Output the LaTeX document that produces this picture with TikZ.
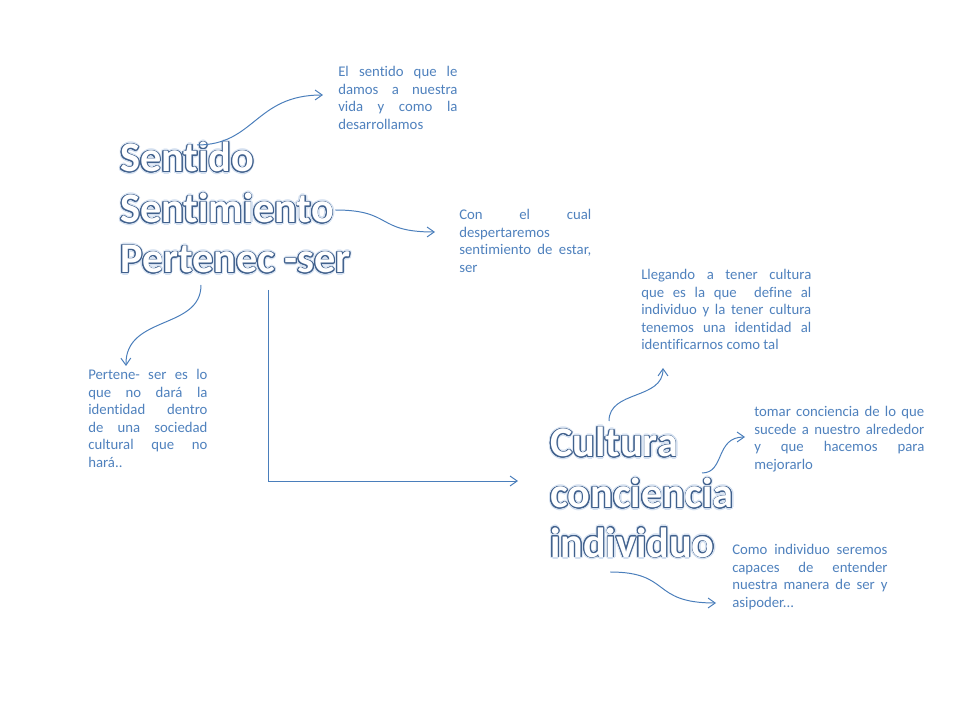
\documentclass[tikz,border=0pt]{standalone}
\usepackage{fontspec}
\setmainfont{Carlito}[Ligatures=NoCommon]
\usepackage{xcolor}
\usepackage{tikz}
\usetikzlibrary{arrows.meta, positioning, calc}
\definecolor{noteblue}{HTML}{4F81BD}
\definecolor{lineblue}{HTML}{4A7EBB}
\definecolor{wordline}{HTML}{40608C}
\definecolor{wordglow}{HTML}{D3DFEF}
\hyphenpenalty=10000
\exhyphenpenalty=10000

% outlined big word: glow copies, outline copies, white face on top
\newcommand\bigword[3]{%
  \foreach \ang in {0,45,...,315}
    \node[wordtxt, text=wordglow] at ($(#2)+(\ang:2.2)$) {#3};
  \foreach \ang in {0,22.5,...,337.5}
    \node[wordtxt, text=wordline] at ($(#2)+(\ang:0.8)$) {#3};
  \node[wordtxt, text=white] (#1) at (#2) {#3};
}

\begin{document}
\begin{tikzpicture}[x=0.025cm, y=-0.025cm,
  wordtxt/.style={font=\fontsize{30}{36}\selectfont\bfseries, anchor=base west, inner sep=0pt},
  note/.style={font=\fontsize{10.5}{12.5}\selectfont, text=noteblue, align=justify, anchor=north west, inner sep=0pt},
  link/.style={draw=lineblue, line width=0.7pt, -{Straight Barb[length=5pt,width=7pt]}}]
  \useasboundingbox (0,0) rectangle (960,720);

  % big words
  \bigword{sentido}{120,172}{Sentido}
  \bigword{sentimiento}{120,223}{Sentimiento}
  \bigword{pertenec}{120,273}{Pertenec -ser}
  \bigword{cultura}{550,457}{Cultura}
  \bigword{conciencia}{550,508}{conciencia}
  \bigword{individuo}{550,557}{individuo}

  % notes
  \node[note, text width=2.98cm] (sentidonote) at (338,66) {El sentido que le\linebreak damos a nuestra\linebreak vida y como la\linebreak desarrollamos};
  \node[note, text width=3.30cm] (sentimnote) at (459,209) {Con el cual\linebreak despertaremos\linebreak sentimiento de estar,\linebreak ser};
  \node[note, text width=4.25cm] (culturanote) at (641,269) {Llegando a tener cultura\linebreak que es la que \ define al\linebreak individuo y la tener cultura\linebreak tenemos una identidad al\linebreak identificarnos como tal};
  \node[note, text width=2.98cm] (pertenote) at (88,369) {Pertene- ser es lo\linebreak que no dará la\linebreak identidad dentro\linebreak de una sociedad\linebreak cultural que no\linebreak hará..};
  \node[note, text width=4.25cm] (concinote) at (754,406) {tomar conciencia de lo que\linebreak sucede a nuestro alrededor\linebreak y que hacemos para\linebreak mejorarlo};
  \node[note, text width=3.88cm] (indivnote) at (732,544) {Como individuo seremos\linebreak capaces de entender\linebreak nuestra manera de ser y\linebreak asipoder...};

  % connectors
  \draw[link] ($(sentido.base west)+(77,-27)$) .. controls +(58,0) and +(-68,0) .. ($(sentidonote.north west)+(-15,29)$);
  \draw[link] ($(sentimiento.base east)+(1,-13)$) .. controls +(58,0) and +(-60,0) .. ($(sentimnote.north west)+(-24,23)$);
  \draw[link] ($(pertenec.base west)+(81,12)$) .. controls +(0,45) and +(-1,-51) .. ($(pertenote.north west)+(38,-3)$);
  \draw[link] ($(pertenec.base west)+(148,17)$) |- ($(conciencia.base west)+(-32,-27)$);
  \draw[link] ($(cultura.base west)+(59,-36)$) .. controls +(0,-31) and +(0,32) .. ($(culturanote.north west)+(22,99)$);
  \draw[link] ($(conciencia.base west)+(152,-35)$) .. controls +(23,0) and +(-30,0) .. ($(concinote.north west)+(-9,31)$);
  \draw[link] ($(individuo.base west)+(60,15)$) .. controls +(62,0) and +(-66,0) .. ($(indivnote.north west)+(-16,59)$);
\end{tikzpicture}
\end{document}
